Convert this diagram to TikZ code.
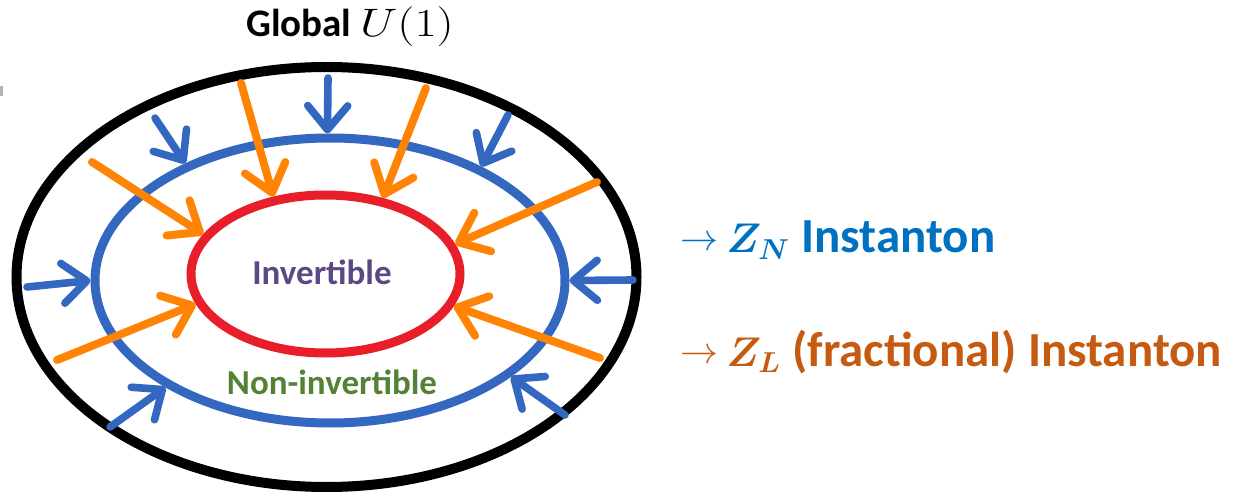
\documentclass[tikz,border=0pt]{standalone}
\usepackage{amsmath}
\usepackage[no-math]{fontspec}
\setmainfont{Carlito}
\usetikzlibrary{shapes.geometric,arrows.meta}

\definecolor{ringblue}{RGB}{52,104,192}
\definecolor{ringred}{RGB}{232,30,42}
\definecolor{flowor}{RGB}{255,132,6}
\definecolor{invpurple}{RGB}{92,72,132}
\definecolor{noninvgreen}{RGB}{84,130,53}
\definecolor{znblue}{RGB}{0,112,192}
\definecolor{zlorange}{RGB}{197,90,17}

\newcommand{\sidearrow}{\raisebox{1.5pt}{\scalebox{1.9}{\fontsize{10}{12}\selectfont$\rightarrow$}}\hspace{4pt}}
\newcommand{\bigZ}[1]{{\fontsize{22}{25}\selectfont\boldmath$Z_{#1}$}}

\begin{document}
\begin{tikzpicture}[
				x=0.5pt, y=-0.5pt,
				ring/.style={ellipse, draw, inner sep=0pt},
				blueflow/.style={ringblue, line width=3.8pt, line cap=round,
					-{Straight Barb[round, length=12pt, width=20pt]}},
				orangeflow/.style={flowor, line width=4pt, line cap=round,
					-{Straight Barb[round, length=13pt, width=21pt]}},
				lbl/.style={font=\bfseries\fontsize{17.5}{20}\selectfont, inner sep=0pt},
				side/.style={lbl, anchor=base west, font=\bfseries\fontsize{24.5}{28}\selectfont}
				]
				\useasboundingbox (0,0) rectangle (1233,492);
				\fill[gray!60] (0,86) rectangle (3,96);
				
				% Rings
				\node[ring, line width=5pt, minimum width=310pt, minimum height=210pt] (glob) at (326.5,277) {};
				\node[ring, ringblue, line width=4.5pt, minimum width=235pt, minimum height=142.5pt] (noninv) at (330,280.5) {};
				\node[ring, ringred, line width=4.5pt, minimum width=134.5pt, minimum height=79pt] (inv) at (325.5,274) {};
				
				% Labels
				\node[lbl, anchor=base, font=\bfseries\fontsize{19.5}{22}\selectfont] (title) at (350,37)
					{Global \scalebox{1.4}[1.15]{\fontsize{19}{22}\selectfont$U(1)$}};
				\node[lbl, anchor=base, text=invpurple] (invtxt) at (322,285) {Invertible};
				\node[lbl, anchor=base, text=noninvgreen] (noninvtxt) at (332,394) {Non-invertible};
				\node[side, text=znblue] (zn) at (680,253) {\sidearrow\bigZ{N} Instanton};
				\node[side, text=zlorange] (zl) at (680,366) {\sidearrow\bigZ{L} (fractional) Instanton};
				
				% Blue arrows
				\coordinate (b1) at (155,118);
				\coordinate (b2) at (328,78);
				\coordinate (b3) at (508,115);
				\coordinate (b4) at (27,287);
				\coordinate (b5) at (110,427);
				\coordinate (b6) at (633,280);
				\coordinate (b7) at (565,415);
				\draw[blueflow] (b1) -- (noninv.141);
				\draw[blueflow] (b2) -- (noninv.91);
				\draw[blueflow] (b3) -- (noninv.37);
				\draw[blueflow] (b4) -- (noninv.180);
				\draw[blueflow] (b5) -- (noninv.213);
				\draw[blueflow] (b6) -- (noninv.0);
				\draw[blueflow] (b7) -- (noninv.332);
				
				% Orange arrows
				\coordinate (o1) at (241,83);
				\coordinate (o2) at (426,88);
				\coordinate (o3) at (92,162);
				\coordinate (o4) at (597,182);
				\coordinate (o5) at (57,360);
				\coordinate (o6) at (600,358);
				\draw[orangeflow] (o1) -- (inv.124);
				\draw[orangeflow] (o2) -- (inv.53);
				\draw[orangeflow] (o3) -- (inv.162);
				\draw[orangeflow] (o4) -- (inv.13);
				\draw[orangeflow] (o5) -- (inv.193);
				\draw[orangeflow] (o6) -- (inv.346);
			\end{tikzpicture}
\end{document}
